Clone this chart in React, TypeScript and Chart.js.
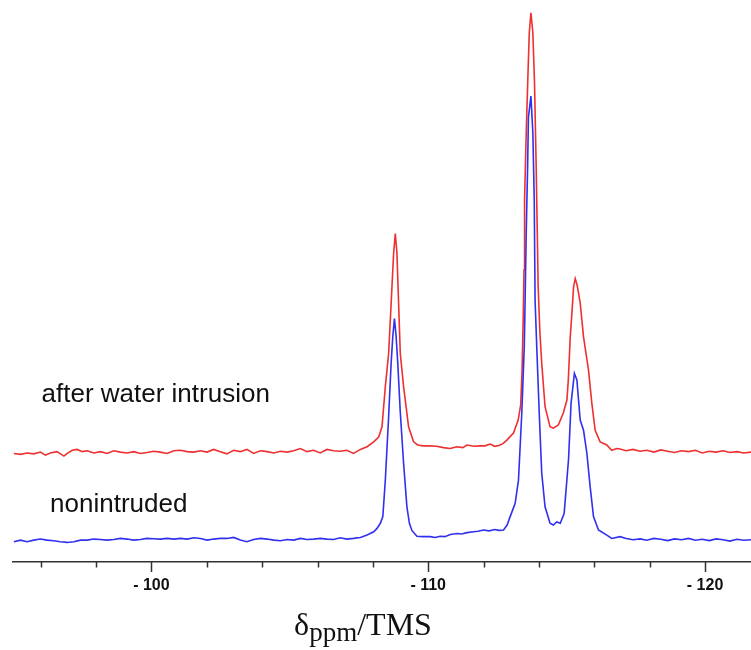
import React, { useEffect, useRef } from "react";
import { Chart, registerables } from "chart.js";

Chart.register(...registerables);

// ---- data (chemical shift in ppm, intensity in arbitrary units) ----
const RED_PPM = [
  -95.03, -95.27, -95.51, -95.75, -95.99, -96.17, -96.35, -96.59, -96.84, -96.96,
  -97.14, -97.32, -97.5, -97.68, -97.92, -98.16, -98.4, -98.64, -98.88, -99.12,
  -99.36, -99.6, -99.84, -100.08, -100.32, -100.57, -100.81, -101.05, -101.29, -101.53,
  -101.77, -102.01, -102.25, -102.49, -102.73, -102.97, -103.21, -103.45, -103.69, -103.94,
  -104.18, -104.42, -104.66, -104.9, -105.14, -105.38, -105.62, -105.86, -106.1, -106.34,
  -106.58, -106.82, -107.06, -107.3, -107.55, -107.79, -108.03, -108.21, -108.33, -108.45,
  -108.57, -108.69, -108.75, -108.81, -108.87, -108.93, -108.99, -109.11, -109.29, -109.47,
  -109.62, -109.82, -110.05, -110.3, -110.55, -110.79, -111.04, -111.25, -111.4, -111.65,
  -111.88, -112.05, -112.24, -112.4, -112.55, -112.7, -112.84, -113.08, -113.25, -113.34,
  -113.39, -113.43, -113.46, -113.48, -113.54, -113.6, -113.65, -113.71, -113.78, -113.84,
  -113.9, -113.94, -113.97, -114.03, -114.1, -114.22, -114.4, -114.52, -114.7, -114.88,
  -115.01, -115.06, -115.13, -115.19, -115.25, -115.31, -115.38, -115.49, -115.61, -115.79,
  -115.91, -116.03, -116.21, -116.45, -116.63, -116.81, -116.93, -117.15, -117.4, -117.65,
  -117.9, -118.15, -118.4, -118.65, -118.9, -119.15, -119.4, -119.65, -119.9, -120.15,
  -120.4, -120.65, -120.9, -121.15, -121.4, -121.66,
];
const RED_INT = [
  19.7, 19.5, 19.8, 19.6, 20.0, 19.3, 19.8, 20.1, 19.1, 19.7,
  20.4, 20.6, 20.1, 20.3, 19.8, 20.1, 19.7, 20.3, 20.0, 19.8,
  20.1, 19.7, 19.9, 20.2, 20.0, 19.7, 20.3, 20.4, 20.1, 20.0,
  20.3, 20.0, 20.6, 20.1, 19.6, 20.4, 20.1, 20.6, 19.7, 20.3,
  20.1, 19.8, 20.2, 20.0, 20.3, 20.8, 20.1, 20.4, 19.8, 20.6,
  20.3, 20.2, 20.4, 19.7, 20.6, 21.2, 22.3, 23.4, 25.7, 34.7,
  42.2, 57.1, 64.7, 69.1, 64.7, 53.4, 42.2, 34.7, 25.7, 22.3,
  21.6, 21.4, 21.4, 21.3, 21.0, 20.8, 21.2, 21.0, 21.6, 21.3,
  21.4, 21.4, 21.8, 21.3, 21.5, 21.9, 22.7, 24.3, 27.2, 30.6,
  38.4, 49.7, 60.9, 76.6, 91.7, 104.3, 114.2, 118.7, 114.2, 102.9,
  84.0, 69.2, 57.5, 47.4, 40.0, 30.2, 25.7, 25.4, 26.1, 28.8,
  31.7, 36.2, 45.8, 51.2, 57.1, 59.0, 57.5, 53.5, 45.9, 38.4,
  31.0, 24.9, 22.3, 21.6, 20.4, 20.8, 20.7, 20.3, 20.6, 20.2,
  20.4, 20.0, 20.5, 20.2, 19.9, 20.3, 20.1, 20.4, 19.8, 20.2,
  20.0, 20.3, 19.9, 20.1, 19.8, 20.0,
];

const BLUE_PPM = [
  -95.03, -95.27, -95.51, -95.75, -95.99, -96.23, -96.47, -96.71, -96.96, -97.2,
  -97.44, -97.68, -97.92, -98.16, -98.4, -98.64, -98.88, -99.12, -99.36, -99.6,
  -99.84, -100.08, -100.32, -100.57, -100.81, -101.05, -101.29, -101.53, -101.77, -102.01,
  -102.25, -102.49, -102.73, -102.97, -103.21, -103.45, -103.69, -103.94, -104.18, -104.42,
  -104.66, -104.9, -105.14, -105.38, -105.62, -105.86, -106.1, -106.34, -106.58, -106.82,
  -107.06, -107.3, -107.55, -107.79, -108.03, -108.15, -108.27, -108.36, -108.45, -108.57,
  -108.66, -108.72, -108.78, -108.84, -108.9, -108.99, -109.11, -109.23, -109.32, -109.41,
  -109.59, -109.8, -110.07, -110.25, -110.43, -110.6, -110.8, -111.04, -111.2, -111.4,
  -111.64, -111.8, -112.0, -112.2, -112.4, -112.55, -112.72, -112.85, -112.96, -113.14,
  -113.26, -113.38, -113.47, -113.5, -113.54, -113.59, -113.62, -113.71, -113.78, -113.83,
  -113.86, -113.92, -114.01, -114.1, -114.22, -114.4, -114.52, -114.64, -114.77, -114.91,
  -115.07, -115.16, -115.28, -115.37, -115.49, -115.61, -115.73, -115.85, -115.97, -116.15,
  -116.45, -116.63, -116.93, -117.15, -117.4, -117.65, -117.9, -118.15, -118.4, -118.65,
  -118.9, -119.15, -119.4, -119.65, -119.9, -120.15, -120.4, -120.65, -120.9, -121.15,
  -121.4, -121.66,
];
const BLUE_INT = [
  -0.15, 0.22, -0.15, 0.22, 0.45, 0.22, 0.07, -0.15, -0.3, -0.15,
  0.22, 0.22, 0.45, 0.37, 0.22, 0.37, 0.6, 0.45, 0.22, 0.37,
  0.6, 0.52, 0.45, 0.6, 0.45, 0.6, 0.45, 0.75, 0.6, 0.22,
  0.45, 0.6, 0.6, 0.82, 0.22, -0.15, 0.37, 0.6, 0.45, 0.22,
  0.07, 0.37, 0.22, 0.6, 0.37, 0.45, 0.6, 0.45, 0.37, 0.75,
  0.45, 0.6, 0.82, 1.35, 2.1, 2.85, 4.0, 5.5, 13.7, 28.0,
  40.0, 46.0, 50.0, 46.0, 40.0, 29.0, 17.5, 7.7, 4.0, 2.4,
  1.1, 1.0, 1.0, 0.8, 1.1, 1.0, 1.5, 1.7, 1.6, 1.9,
  2.1, 2.2, 2.5, 2.3, 2.6, 2.4, 2.5, 3.6, 5.5, 8.5,
  13.7, 28.8, 43.7, 54.2, 69.2, 84.1, 95.3, 100.0, 91.7, 76.6,
  54.2, 43.7, 28.8, 15.3, 7.7, 4.0, 3.6, 4.3, 4.0, 6.2,
  18.5, 31.0, 37.7, 36.2, 27.2, 24.9, 19.8, 12.2, 5.5, 2.5,
  1.35, 0.6, 1.0, 0.6, 0.3, 0.5, 0.2, 0.6, 0.4, 0.1,
  0.5, 0.3, 0.6, 0.2, 0.4, 0.1, 0.5, 0.3, 0.0, 0.4,
  0.2, 0.3,
];

const SERIES_NAMES = ["after water intrusion", "nonintruded"];
const TICK_VALUES = [-96, -98, -100, -102, -104, -106, -108, -110, -112, -114, -116, -118, -120];
const MAJOR_TICKS = [-100, -110, -120];
const MAJOR_LABELS = ["- 100", "- 110", "- 120"];
const AXIS_TITLE = { main: "\u03b4", sub: "ppm", rest: "/TMS" };

// ---- styling ----
const X_RANGE = { min: -121.66, max: -95.0 };
const Y_RANGE = { min: -4.7, max: 121.6 };
const RED = "#ee3030";
const BLUE = "#3030ee";
const AXIS_COLOR = "#333333";
const TEXT_COLOR = "#111111";
const LABEL_POS = [
  { ppm: -96.03, level: 31.2 },
  { ppm: -96.34, level: 6.45 },
];

const decorPlugin = {
  id: "decor",
  afterDraw(chart: any) {
    const ctx = chart.ctx as CanvasRenderingContext2D;
    const xs = chart.scales.x;
    const ys = chart.scales.y;
    const axisY = chart.chartArea.bottom;
    ctx.save();
    // tick marks (major longer than minor)
    ctx.strokeStyle = AXIS_COLOR;
    ctx.lineWidth = 1.5;
    TICK_VALUES.forEach((v) => {
      const px = Math.round(xs.getPixelForValue(v)) + 0.5;
      const len = MAJOR_TICKS.includes(v) ? 10 : 5.5;
      ctx.beginPath();
      ctx.moveTo(px, axisY);
      ctx.lineTo(px, axisY + len);
      ctx.stroke();
    });
    // series labels
    ctx.fillStyle = TEXT_COLOR;
    ctx.font = '26px "Liberation Sans", Arial, sans-serif';
    ctx.textAlign = "left";
    ctx.textBaseline = "alphabetic";
    SERIES_NAMES.forEach((name, i) => {
      const p = LABEL_POS[i];
      ctx.fillText(name, xs.getPixelForValue(p.ppm), ys.getPixelForValue(p.level));
    });
    // axis title with subscript
    const mainFont = '32px "Liberation Serif", "Times New Roman", serif';
    const subFont = '27px "Liberation Serif", "Times New Roman", serif';
    ctx.font = mainFont;
    const w1 = ctx.measureText(AXIS_TITLE.main).width;
    const w3 = ctx.measureText(AXIS_TITLE.rest).width;
    ctx.font = subFont;
    const w2 = ctx.measureText(AXIS_TITLE.sub).width;
    const total = w1 + w2 + w3;
    const cx = 363;
    const baseY = 635;
    let x = cx - total / 2;
    ctx.font = mainFont;
    ctx.fillText(AXIS_TITLE.main, x, baseY);
    x += w1;
    ctx.font = subFont;
    ctx.fillText(AXIS_TITLE.sub, x, baseY + 6);
    x += w2;
    ctx.font = mainFont;
    ctx.fillText(AXIS_TITLE.rest, x, baseY);
    ctx.restore();
  },
};

export default function App() {
  const canvasRef = useRef<HTMLCanvasElement | null>(null);

  useEffect(() => {
    if (!canvasRef.current) return;
    const red = RED_PPM.map((p, i) => ({ x: p, y: RED_INT[i] }));
    const blue = BLUE_PPM.map((p, i) => ({ x: p, y: BLUE_INT[i] }));
    const chart = new Chart(canvasRef.current, {
      type: "line",
      data: {
        datasets: [
          {
            label: SERIES_NAMES[0],
            data: red,
            borderColor: RED,
            borderWidth: 1.6,
            pointRadius: 0,
            tension: 0,
            fill: false,
            order: 1,
          },
          {
            label: SERIES_NAMES[1],
            data: blue,
            borderColor: BLUE,
            borderWidth: 1.6,
            pointRadius: 0,
            tension: 0,
            fill: false,
            order: 0,
          },
        ],
      },
      options: {
        animation: false,
        responsive: false,
        devicePixelRatio: 1,
        layout: { padding: { left: 13, right: 0, top: 0, bottom: 0 } },
        plugins: { legend: { display: false }, tooltip: { enabled: false } },
        scales: {
          x: {
            type: "linear",
            min: X_RANGE.min,
            max: X_RANGE.max,
            reverse: true,
            afterBuildTicks: (axis: any) => {
              axis.ticks = TICK_VALUES.map((v) => ({ value: v }));
            },
            afterFit: (axis: any) => {
              axis.height = 88;
            },
            grid: {
              display: true,
              drawOnChartArea: false,
              drawTicks: true,
              tickLength: 10,
              tickColor: "rgba(0,0,0,0)",
            },
            border: { display: true, color: AXIS_COLOR, width: 1.5 },
            ticks: {
              autoSkip: false,
              maxRotation: 0,
              padding: 4,
              color: TEXT_COLOR,
              font: { family: '"Liberation Sans", Arial, sans-serif', size: 16, weight: "bold" },
              callback: (v: any) => {
                const i = MAJOR_TICKS.indexOf(Number(v));
                return i >= 0 ? MAJOR_LABELS[i] : "";
              },
            },
          },
          y: { display: false, min: Y_RANGE.min, max: Y_RANGE.max },
        },
      },
      plugins: [decorPlugin],
    });
    return () => chart.destroy();
  }, []);

  return (
    <div style={{ position: "absolute", left: 0, top: 0, width: 751, height: 650, background: "#fff" }}>
      <canvas ref={canvasRef} width={751} height={650} style={{ display: "block", width: 751, height: 650 }} />
    </div>
  );
}
